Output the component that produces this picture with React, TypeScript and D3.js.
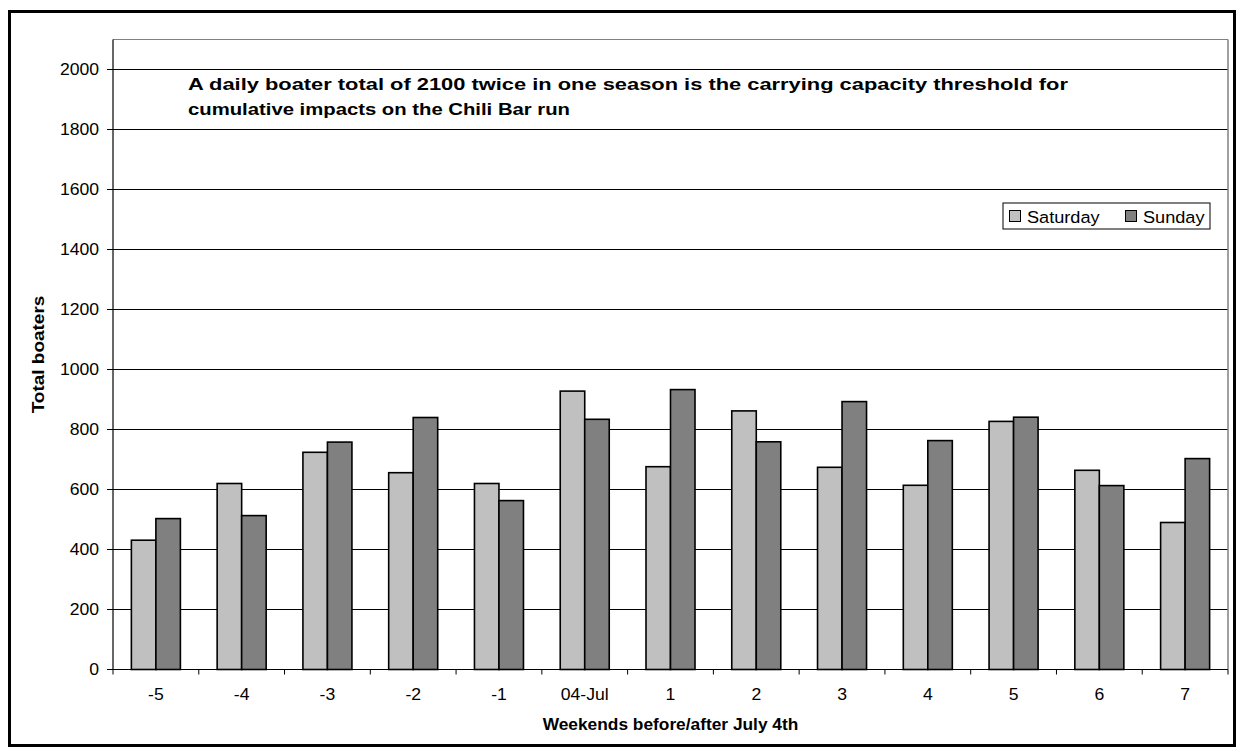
import React from "react";
import * as d3 from "d3";

const categories = ["-5", "-4", "-3", "-2", "-1", "04-Jul", "1", "2", "3", "4", "5", "6", "7"];
const seriesNames = ["Saturday", "Sunday"];
const saturday = [431, 620, 724, 656, 620, 928, 676, 862, 674, 614, 827, 664, 490];
const sunday = [503, 513, 758, 840, 563, 834, 933, 759, 893, 763, 841, 613, 703];
const yTicks = [0, 200, 400, 600, 800, 1000, 1200, 1400, 1600, 1800, 2000];
const titleLines = [
  "A daily boater total of 2100 twice in one season is the carrying capacity threshold for",
  "cumulative impacts on the Chili Bar run",
];
const xTitle = "Weekends before/after July 4th";
const yTitle = "Total boaters";

const W = 1239;
const H = 750;
const FONT = "'Liberation Sans', Arial, Helvetica, sans-serif";
const SX = 1.1;
const colors = ["#C0C0C0", "#808080"];

function SText(props: {
  x: number; y: number; rotate?: number; anchor?: string; size: number; bold?: boolean; children: string; sx?: number;
}) {
  const { x, y, rotate = 0, anchor = "start", size, bold, children, sx = SX } = props;
  return (
    <text
      transform={`translate(${x},${y}) rotate(${rotate}) scale(${sx},1)`}
      textAnchor={anchor}
      fontFamily={FONT}
      fontSize={size}
      fontWeight={bold ? "bold" : "normal"}
      fill="#000"
    >
      {children}
    </text>
  );
}

export default function App() {
  const left = 113;
  const right = 1228;
  const top = 39.5;
  const bottom = 669.5;

  const x = d3.scaleBand<string>().domain(categories).range([left, right]).padding(0);
  const inner = d3
    .scaleBand<string>()
    .domain(seriesNames)
    .range([0, x.bandwidth()])
    .paddingInner(0)
    .paddingOuter(0.75);
  const y = d3.scaleLinear().domain([0, 2100]).range([bottom, top]);

  const series = [saturday, sunday];
  const xTickPos = categories.map((c) => x(c) as number).concat([right]);

  return (
    <svg
      width={W}
      height={H}
      style={{ position: "absolute", left: 0, top: 0, background: "#fff" }}
      xmlns="http://www.w3.org/2000/svg"
    >
      <rect x={0} y={0} width={W} height={H} fill="#fff" />
      {/* outer border */}
      <rect x={9.5} y={11.5} width={1225} height={734} fill="none" stroke="#000" strokeWidth={3} />

      {/* gridlines */}
      {yTicks.filter((t) => t > 0).map((t) => (
        <line key={t} x1={left} x2={right} y1={y(t)} y2={y(t)} stroke="#000" strokeWidth={1} />
      ))}
      {/* plot border top/right */}
      <line x1={left} x2={right} y1={y(2100)} y2={y(2100)} stroke="#808080" strokeWidth={1} />
      <line x1={right} x2={right} y1={y(2100)} y2={bottom} stroke="#808080" strokeWidth={1.5} />

      {/* bars */}
      {series.map((vals, si) =>
        vals.map((v, i) => {
          const bx = (x(categories[i]) as number) + (inner(seriesNames[si]) as number);
          return (
            <rect
              key={`${si}-${i}`}
              x={bx}
              y={y(v)}
              width={inner.bandwidth()}
              height={bottom - y(v)}
              fill={colors[si]}
              stroke="#000"
              strokeWidth={1.6}
            />
          );
        })
      )}

      {/* axes */}
      <line x1={left} x2={left} y1={y(2100)} y2={bottom} stroke="#000" strokeWidth={1.2} />
      <line x1={left} x2={right} y1={bottom} y2={bottom} stroke="#000" strokeWidth={1.2} />
      {yTicks.map((t) => (
        <g key={t}>
          <line x1={left - 6} x2={left} y1={y(t)} y2={y(t)} stroke="#000" strokeWidth={1} />
          <SText x={99} y={y(t) + 5.5} anchor="end" size={16}>{String(t)}</SText>
        </g>
      ))}
      {xTickPos.map((p, i) => (
        <line key={i} x1={p} x2={p} y1={bottom} y2={bottom + 5} stroke="#000" strokeWidth={1} />
      ))}
      {categories.map((c) => (
        <SText key={c} x={(x(c) as number) + x.bandwidth() / 2} y={699.5} anchor="middle" size={16}>
          {c}
        </SText>
      ))}

      {/* axis titles */}
      <SText x={(left + right) / 2} y={729.5} anchor="middle" size={16.5} bold sx={1.05}>{xTitle}</SText>
      <SText x={43.5} y={(top + bottom) / 2} rotate={-90} anchor="middle" size={16.5} bold sx={1.15}>{yTitle}</SText>

      {/* title annotation */}
      <text x={188} y={89.5} fontFamily={FONT} fontSize={17} fontWeight="bold" textLength={880} lengthAdjust="spacingAndGlyphs">
        {titleLines[0]}
      </text>
      <text x={188} y={115} fontFamily={FONT} fontSize={17} fontWeight="bold" textLength={382} lengthAdjust="spacingAndGlyphs">
        {titleLines[1]}
      </text>

      {/* legend */}
      <rect x={1003} y={203} width={207} height={26} fill="#fff" stroke="#000" strokeWidth={1} />
      {seriesNames.map((n, i) => {
        const sx0 = i === 0 ? 1009 : 1125;
        return (
          <g key={n}>
            <rect x={sx0 + 0.5} y={210.5} width={11} height={11} fill={colors[i]} stroke="#000" strokeWidth={1} />
            <SText x={sx0 + 18} y={222.5} size={16.5} sx={1.1}>{n}</SText>
          </g>
        );
      })}
    </svg>
  );
}
